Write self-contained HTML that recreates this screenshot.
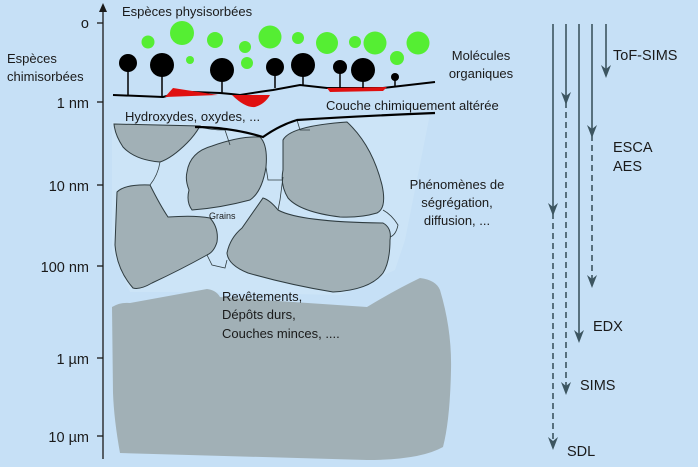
<!DOCTYPE html>
<html><head><meta charset="utf-8"><style>
html,body{margin:0;padding:0;background:#c6e0f6;}
svg{display:block;}
text{font-family:"Liberation Sans",sans-serif;fill:#1a1a1a;}
</style></head><body>
<svg width="698" height="467" viewBox="0 0 698 467" xmlns="http://www.w3.org/2000/svg">
<rect width="698" height="467" fill="#c6e0f6"/>
<path d="M112,122 L200,124 L263,137 L297,120 L430,114 L405,240 L395,270 L340,295 L200,292 L130,292 L112,250 Z" fill="#cce4f7"/>
<path d="M112,307 Q120,302 130,303 L207,289 Q216,290 220,297 L367,307 Q395,290 420,278 Q436,280 440,290 Q452,330 451,370 Q450,420 443,447 Q420,460 367,460 L120,453 Q114,420 113,393 Z" fill="#a1b0b6"/>
<g fill="#a1b0b6" stroke="#2f3c40" stroke-width="1">
<path d="M114,124 L200,126 Q195,135 187,143 Q172,158 160,162 Q135,160 123,147 Q115,135 114,124 Z"/>
<path d="M187,172 Q190,152 212,146 Q240,136 260,137 Q268,145 266,167 Q262,192 250,200 Q220,208 192,210 Q186,202 189,190 Q185,180 187,172 Z"/>
<path d="M283,140 Q290,126 347,122 Q372,145 382,185 Q387,208 377,213 Q360,218 340,217 Q300,212 288,198 Q280,185 283,170 Z"/>
<path d="M117,192 Q125,184 150,185 Q160,205 168,217 Q195,215 210,218 Q219,228 217,242 Q214,252 207,255 Q180,270 152,283 Q140,290 133,288 Q117,270 115,245 Z"/>
<path d="M263,198 Q270,200 278,210 Q300,222 383,223 Q392,228 390,240 Q390,262 383,273 Q370,290 333,292 Q290,285 248,273 Q228,265 227,253 Q230,238 242,228 Z"/>
</g>
<g fill="none" stroke="#2f3c40" stroke-width="0.8">
<path d="M160,162 Q158,175 150,185"/>
<path d="M200,127 Q210,130 225,130 L230,145"/>
<path d="M266,167 L268,180 L283,180"/>
<path d="M283,177 L280,200 L278,210"/>
<path d="M297,120 L300,130 L310,130"/>
<path d="M383,210 Q392,215 398,225 Q396,235 390,237"/>
<path d="M207,255 L212,265 L225,268 L227,260"/>
</g>
<path d="M113,95 L163,97 Q180,92 193,92 L220,93 Q232,94 240,95 Q258,92 273,90 L300,85 L327,88 L383,88 Q410,85 435,82" fill="none" stroke="#000" stroke-width="2"/>
<path d="M165,97 L173,88 L218,95 Z" fill="#e01010"/>
<path d="M232,95 Q245,108 255,107 Q265,104 270,95 Z" fill="#e01010"/>
<path d="M327,88 L387,87 L383,91 L330,92 Z" fill="#e01010"/>
<path d="M195,127 Q230,127 263,137 Q280,125 297,120 Q360,116 435,113" fill="none" stroke="#000" stroke-width="2.2"/>
<g stroke="#000" stroke-width="1.5">
<line x1="128" y1="63" x2="128" y2="95"/><line x1="162" y1="65" x2="162" y2="97"/>
<line x1="222" y1="70" x2="222" y2="93"/><line x1="275" y1="67" x2="275" y2="88"/>
<line x1="303" y1="65" x2="303" y2="85"/><line x1="340" y1="67" x2="340" y2="88"/>
<line x1="363" y1="70" x2="363" y2="88"/><line x1="395" y1="77" x2="395" y2="87"/>
</g>
<g fill="#000">
<circle cx="128" cy="63" r="9"/><circle cx="162" cy="65" r="12"/><circle cx="222" cy="70" r="12"/>
<circle cx="275" cy="67" r="9"/><circle cx="303" cy="65" r="12"/><circle cx="340" cy="67" r="7"/>
<circle cx="363" cy="70" r="12"/><circle cx="395" cy="77" r="4"/>
</g>
<g fill="#55ee33">
<circle cx="148" cy="42" r="6.5"/><circle cx="182" cy="33" r="12"/><circle cx="215" cy="40" r="8"/>
<circle cx="245" cy="47" r="6"/><circle cx="190" cy="60" r="4"/><circle cx="270" cy="37" r="11.5"/>
<circle cx="298" cy="38" r="6"/><circle cx="327" cy="43" r="11"/><circle cx="355" cy="42" r="6"/>
<circle cx="375" cy="43" r="11.5"/><circle cx="397" cy="58" r="7"/><circle cx="247" cy="63" r="6"/>
<circle cx="418" cy="43" r="11.5"/>
</g>
<line x1="103" y1="10" x2="103" y2="459" stroke="#1a1a1a" stroke-width="1.3"/>
<path d="M103,3 L99,12 L107,12 Z" fill="#1a1a1a"/>
<g stroke="#1a1a1a" stroke-width="1.3">
<line x1="97" y1="23" x2="103" y2="23"/><line x1="97" y1="102" x2="103" y2="102"/>
<line x1="97" y1="185" x2="103" y2="185"/><line x1="97" y1="266" x2="103" y2="266"/>
<line x1="97" y1="358" x2="103" y2="358"/><line x1="97" y1="436" x2="103" y2="436"/>
</g>
<g font-size="14.5" text-anchor="end">
<text x="89" y="28">o</text><text x="89" y="108">1 nm</text><text x="89" y="191">10 nm</text>
<text x="89" y="272">100 nm</text><text x="89" y="364">1 µm</text><text x="89" y="442">10 µm</text>
</g>
<g font-size="13" fill="#2a2a2a">
<text x="7" y="63">Espèces</text><text x="7" y="81">chimisorbées</text>
<text x="122" y="16">Espèces physisorbées</text>
<text x="125" y="121">Hydroxydes, oxydes, ...</text>
<text x="326" y="110">Couche chimiquement altérée</text>
<text x="481" y="60" text-anchor="middle">Molécules</text>
<text x="481" y="78" text-anchor="middle">organiques</text>
<text x="457" y="189" text-anchor="middle">Phénomènes de</text>
<text x="457" y="207" text-anchor="middle">ségrégation,</text>
<text x="457" y="225" text-anchor="middle">diffusion, ...</text>
<text x="222" y="301">Revêtements,</text>
<text x="222" y="319">Dépôts durs,</text>
<text x="222" y="338">Couches minces, ....</text>
</g>
<text x="209" y="219" font-size="9" fill="#222">Grains</text>
<g stroke="#3c5560" stroke-width="1.6" fill="none">
<line x1="553" y1="24" x2="553" y2="213"/><line x1="553" y1="213" x2="553" y2="447" stroke-dasharray="6,4"/>
<line x1="566" y1="24" x2="566" y2="102"/><line x1="566" y1="102" x2="566" y2="392" stroke-dasharray="6,4"/>
<line x1="579" y1="24" x2="579" y2="340"/>
<line x1="592" y1="24" x2="592" y2="135"/><line x1="592" y1="135" x2="592" y2="285" stroke-dasharray="6,4"/>
<line x1="606" y1="24" x2="606" y2="75"/>
</g>
<g fill="#3c5560">
<path d="M548,203 L553,216 L558,203 L553,207 Z"/>
<path d="M561,92 L566,105 L571,92 L566,96 Z"/>
<path d="M561,382 L566,395 L571,382 L566,386 Z"/>
<path d="M548,437 L553,450 L558,437 L553,441 Z"/>
<path d="M574,330 L579,343 L584,330 L579,334 Z"/>
<path d="M587,125 L592,138 L597,125 L592,129 Z"/>
<path d="M587,275 L592,288 L597,275 L592,279 Z"/>
<path d="M601,65 L606,78 L611,65 L606,69 Z"/>
</g>
<g font-size="14.5" fill="#3c5560">
<text x="613" y="60">ToF-SIMS</text>
<text x="613" y="152">ESCA</text><text x="613" y="171">AES</text>
<text x="593" y="331">EDX</text>
<text x="580" y="390">SIMS</text>
<text x="567" y="456">SDL</text>
</g>
</svg>
</body></html>
